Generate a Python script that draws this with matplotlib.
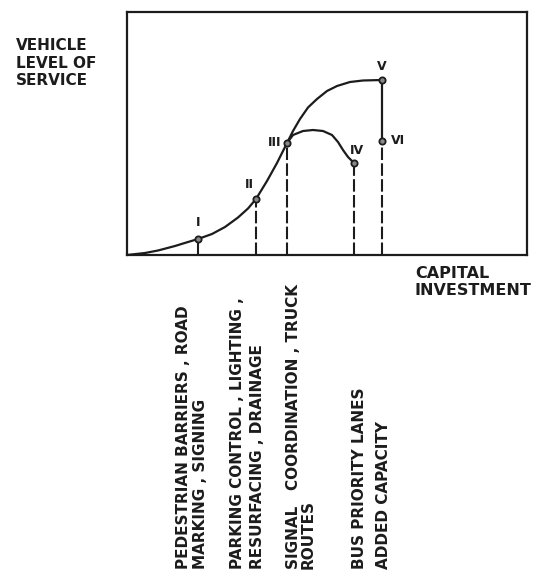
import matplotlib
matplotlib.use('Agg')
import matplotlib.pyplot as plt

# courbe principale (investissement, niveau de service)
invest = [0, 18, 31, 48, 61, 71, 85, 98, 111, 121, 129, 140, 150, 160, 166, 173,
          181, 190, 200, 210, 223, 236, 255]
service = [0, 2, 4.5, 9, 13, 16, 21, 28, 37.5, 46.5, 56, 74, 92, 112, 124, 136,
           147.5, 156, 164, 169, 173, 174.5, 175]

# branche III -> IV
invest_b = [160, 166, 176, 186, 196, 205, 211, 216, 221, 227]
service_b = [112, 120, 124, 125, 124, 120, 113, 105, 98, 92]

# points remarquables
noms = ['I', 'II', 'III', 'IV', 'V', 'VI']
px = [71, 129, 160, 227, 255, 255]
py = [16, 56, 112, 92, 175, 114]

# textes sous l'axe
mesures = ['PEDESTRIAN BARRIERS , ROAD', 'MARKING , SIGNING',
           'PARKING CONTROL , LIGHTING ,', 'RESURFACING , DRAINAGE',
           'SIGNAL   COORDINATION , TRUCK', 'ROUTES',
           'BUS PRIORITY LANES', 'ADDED CAPACITY']
col_x = [183, 201, 237, 257, 294, 308, 360, 383]

W, H = 542, 571
encre = '#1c1c1c'
fig = plt.figure(figsize=(W/100, H/100), dpi=100)
fig.patch.set_facecolor('white')
ax = fig.add_axes([127/W, (H-255)/H, 400/W, 243/H])
ax.set_xlim(0, 400)
ax.set_ylim(0, 243)
ax.set_xticks([])
ax.set_yticks([])
for s in ax.spines.values():
    s.set_linewidth(1.6)
    s.set_color(encre)

ax.plot(invest, service, color=encre, lw=1.6, solid_joinstyle='round')
ax.plot(invest_b, service_b, color=encre, lw=1.6, solid_joinstyle='round')

# V -> VI trait plein
ax.plot([px[4], px[5]], [py[4], py[5]], color=encre, lw=1.6)
# pointillés verticaux
for i in [0, 1, 2, 3, 5]:
    ax.plot([px[i], px[i]], [0, py[i]], color=encre, lw=1.5, ls=(0, (6, 1.6)))

ax.plot(px, py, 'o', ms=4.5, mfc='#888888', mec=encre, mew=1.3, zorder=5)

decal = {'I': (0, 16, 'center'), 'II': (-7, 14, 'center'), 'III': (-6, 0, 'right'),
         'IV': (3, 12, 'center'), 'V': (0, 13, 'center'), 'VI': (9, 0, 'left')}
for n, x, y in zip(noms, px, py):
    dx, dy, ha = decal[n]
    ax.text(x+dx, y+dy, n, fontsize=9, fontweight='bold', color=encre,
            ha=ha, va='center')

fig.text(16/W, 1-63/H, 'VEHICLE\nLEVEL OF\nSERVICE', fontsize=11, fontweight='bold',
         color=encre, ha='left', va='center', linespacing=1.2)
fig.text(415/W, 1-282/H, 'CAPITAL\nINVESTMENT', fontsize=11.5, fontweight='bold',
         color=encre, ha='left', va='center', linespacing=1.15)

for t, x in zip(mesures, col_x):
    fig.text(x/W, 1-569/H, t, fontsize=11, fontweight='bold', color=encre,
             rotation=90, rotation_mode='anchor', ha='left', va='center')

plt.savefig('out.png', dpi=100, facecolor='white')
